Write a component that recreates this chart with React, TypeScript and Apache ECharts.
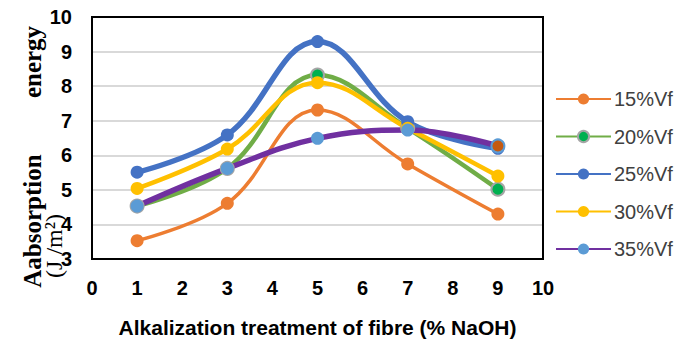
import React, { useEffect, useRef } from "react";
import * as echarts from "echarts";

const xValues = [1, 3, 5, 7, 9];
const seriesNames = ["15%Vf", "20%Vf", "25%Vf", "30%Vf", "35%Vf"];
const vf15 = [3.53, 4.61, 7.31, 5.75, 4.3];
const vf20 = [4.53, 5.62, 8.32, 6.78, 5.02];
const vf25 = [5.51, 6.59, 9.29, 6.97, 6.2];
const vf30 = [5.04, 6.18, 8.1, 6.78, 5.4];
const vf35 = [4.53, 5.62, 6.49, 6.73, 6.27];

const lineColors = ["#ED7D31", "#70AD47", "#4472C4", "#FFC000", "#7030A0"];
const markerColors = ["#ED7D31", "#00B050", "#4472C4", "#FFC000", "#5B9BD5"];
const lineWidths = [3.5, 4.5, 5.5, 4.5, 5.5];

export default function App() {
  const ref = useRef<HTMLDivElement>(null);
  useEffect(() => {
    document.body.style.margin = "0";
    if (!ref.current) return;
    const chart = echarts.init(ref.current, undefined, { renderer: "svg" });
    const all = [vf15, vf20, vf25, vf30, vf35];
    const series = all.map((vals, i) => ({
      name: seriesNames[i],
      type: "line",
      smooth: 0.4,
      symbol: "circle",
      symbolSize: 13,
      lineStyle: { color: lineColors[i], width: lineWidths[i] },
      itemStyle:
        i === 1
          ? { color: markerColors[i], borderColor: "#A5A5A5", borderWidth: 2 }
          : { color: markerColors[i], borderWidth: 0 },
      data: vals.map((v, j) => {
        if (i === 4 && j === 4) {
          return {
            value: [xValues[j], v],
            itemStyle: { color: "#C55A11", borderColor: "#5B9BD5", borderWidth: 2 },
          };
        }
        return [xValues[j], v];
      }),
    }));
    chart.setOption({
      animation: false,
      grid: {
        left: 92,
        right: 146,
        top: 17,
        bottom: 81,
        outerBoundsMode: "none",
        containLabel: false,
      },
      xAxis: {
        type: "value",
        min: 0,
        max: 10,
        interval: 1,
        axisLine: { show: false },
        axisTick: { show: false },
        splitLine: { show: false },
        axisLabel: {
          margin: 19,
          fontFamily: "Liberation Sans",
          fontWeight: "bold",
          fontSize: 20,
          color: "#000",
        },
        name: "Alkalization treatment of fibre (% NaOH)",
        nameLocation: "middle",
        nameGap: 58,
        nameTextStyle: {
          fontFamily: "Liberation Sans",
          fontWeight: "bold",
          fontSize: 21,
          color: "#000",
        },
      },
      yAxis: {
        type: "value",
        min: 3,
        max: 10,
        interval: 1,
        axisLine: { show: false },
        axisTick: { show: false },
        splitLine: { show: true, lineStyle: { color: "#D9D9D9", width: 2 } },
        axisLabel: {
          margin: 20,
          fontFamily: "Liberation Sans",
          fontWeight: "bold",
          fontSize: 20,
          color: "#000",
        },
      },
      legend: {
        orient: "vertical",
        left: 555,
        top: 89,
        padding: 0,
        itemWidth: 55,
        itemHeight: 14,
        itemGap: 17.5,
        data: seriesNames,
        textStyle: {
          fontFamily: "Liberation Sans",
          fontSize: 20,
          lineHeight: 20,
          color: "#404040",
          padding: [0, 0, 0, -2],
        },
      },
      graphic: [
        {
          type: "rect",
          z: 10,
          shape: { x: 92, y: 17, width: 451, height: 242 },
          style: { fill: "none", stroke: "#000", lineWidth: 2 },
        },
        {
          type: "text",
          x: 32,
          y: 221,
          rotation: Math.PI / 2,
          style: {
            text: "Aabsorption",
            fontFamily: "Liberation Serif",
            fontWeight: "bold",
            fontSize: 25,
            fill: "#000",
            align: "center",
            verticalAlign: "middle",
          },
        },
        {
          type: "text",
          x: 32,
          y: 62,
          rotation: Math.PI / 2,
          style: {
            text: "energy",
            fontFamily: "Liberation Serif",
            fontWeight: "bold",
            fontSize: 25,
            fill: "#000",
            align: "center",
            verticalAlign: "middle",
          },
        },
        {
          type: "text",
          x: 54,
          y: 246,
          rotation: Math.PI / 2,
          style: {
            text: "(J /m²)",
            fontFamily: "Liberation Serif",
            fontSize: 24,
            fill: "#000",
            align: "center",
            verticalAlign: "middle",
          },
        },
      ],
      series,
    });
    return () => chart.dispose();
  }, []);
  return <div ref={ref} style={{ width: 689, height: 340 }} />;
}
